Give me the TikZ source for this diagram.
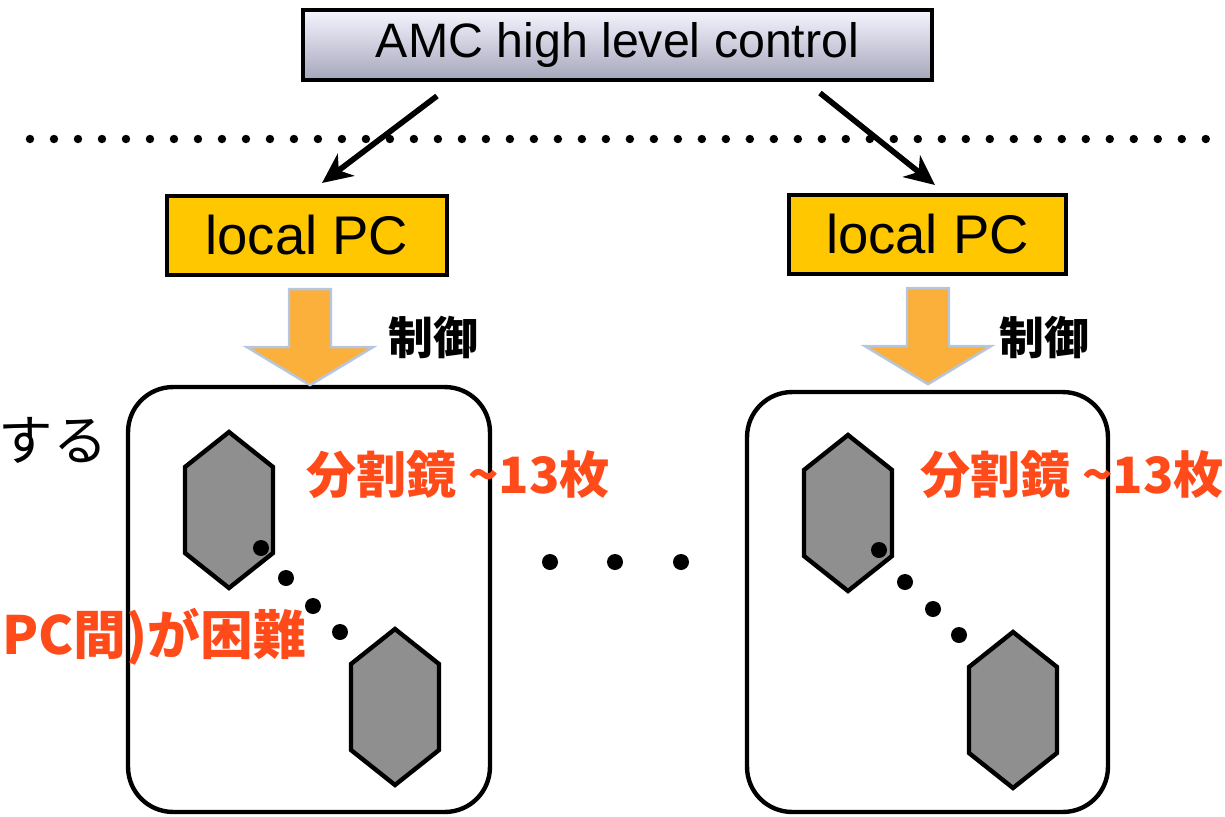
\documentclass[tikz,border=0pt]{standalone}
\usepackage{fontspec}
\setmainfont{Liberation Sans}
\newfontfamily\jp{Noto Sans CJK JP}
\usetikzlibrary{arrows.meta, positioning, calc}
\definecolor{pcgold}{RGB}{255,199,0}
\definecolor{ctrlorange}{RGB}{251,176,60}
\definecolor{ctrledge}{RGB}{182,198,222}
\definecolor{mirrorgray}{RGB}{143,143,143}
\definecolor{redorange}{RGB}{255,74,26}
\tikzset{
  hibox/.style={draw, line width=2.5pt, top color=white!96!blue, bottom color=blue!25!black!35,
    minimum width=12.58cm, minimum height=1.4cm, font=\fontsize{27.5}{30}\selectfont},
  pcbox/.style={draw, line width=2.5pt, fill=pcgold, minimum width=5.6cm, minimum height=1.58cm,
    font=\fontsize{31}{34}\selectfont},
  group/.style={draw, line width=2.5pt, rounded corners=0.9cm, minimum width=7.24cm, minimum height=#1},
  arr/.style={-{Stealth[length=6mm, width=5.5mm, inset=1.8mm]}, line width=3.2pt},
  mirror/.style={draw, line width=2.5pt, fill=mirrorgray, line join=miter},
  blockarr/.style={fill=ctrlorange, draw=ctrledge, line width=1.4pt, line join=miter},
  ctrltxt/.style={font=\jp\bfseries\fontsize{25.5}{28}\selectfont},
  segtxt/.style={font=\jp\bfseries\fontsize{28.5}{30}\selectfont, text=redorange},
  ctrl/.pic={\draw[blockarr] (-21,0) -- (21,0) -- (21,58) -- (63,58) -- (0,96) -- (-63,58) -- (-21,58) -- cycle;},
  seg/.pic={\draw[mirror] (0,-78) -- (44,-43) -- (44,43) -- (0,78) -- (-44,43) -- (-44,-43) -- cycle;},
}

\begin{document}
\begin{tikzpicture}[x=0.02cm, y=-0.02cm]
    \useasboundingbox (0,0) rectangle (1225,816);
    % top level
    \node[hibox] (amc) at (617.5,45) {AMC high level control};
    \draw[line width=4.8pt, line cap=round, dash pattern=on 0pt off 0.48cm] (30,139) -- (1225,139);
    \node[pcbox] (pcL) at (307,235.5) {local PC};
    \node[pcbox, minimum width=5.54cm] (pcR) at (927.5,234.5) {local PC};
    \coordinate (fromL) at (437,96);
    \coordinate (toL) at (322,183);
    \coordinate (fromR) at (820,93);
    \coordinate (toR) at (935,185);
    \draw[arr] (fromL) -- (toL);
    \draw[arr] (fromR) -- (toR);
    % mirror groups
    \node[group=8.5cm] (grpL) at (309,599.5) {};
    \node[group=8.4cm, minimum width=7.22cm] (grpR) at (927.5,602) {};
    \pic at ($(pcL.south)+(3,12)$) {ctrl};
    \pic at ($(pcR.south)+(0.5,12)$) {ctrl};
    \node[ctrltxt] (ctlL) at (433,337) {制御};
    \node[ctrltxt] (ctlR) at (1044,337) {制御};
    \pic at (229,510) {seg};
    \pic at (395,707) {seg};
    \pic at (848,513) {seg};
    \pic at (1013,710) {seg};
    \foreach \x/\y in {261/548, 286/578, 313/606, 340/632, 879/550, 905/582, 933/609, 959/635,
      550/562, 615/562, 681/562}
      \fill (\x,\y) circle (0.16cm);
    \node[segtxt] (cntL) at (458,475) {分割鏡 \string~13枚};
    \node[segtxt] (cntR) at (1072,475) {分割鏡 \string~13枚};
    % cut-off slide text
    \node[anchor=east, font=\jp\fontsize{31}{33}\selectfont] (noteA) at (114,440) {制御する};
    \node[anchor=east, segtxt, font=\jp\bfseries\fontsize{30}{32}\selectfont] (noteB) at (312,637) {(PC間)が困難};
\end{tikzpicture}
\end{document}
